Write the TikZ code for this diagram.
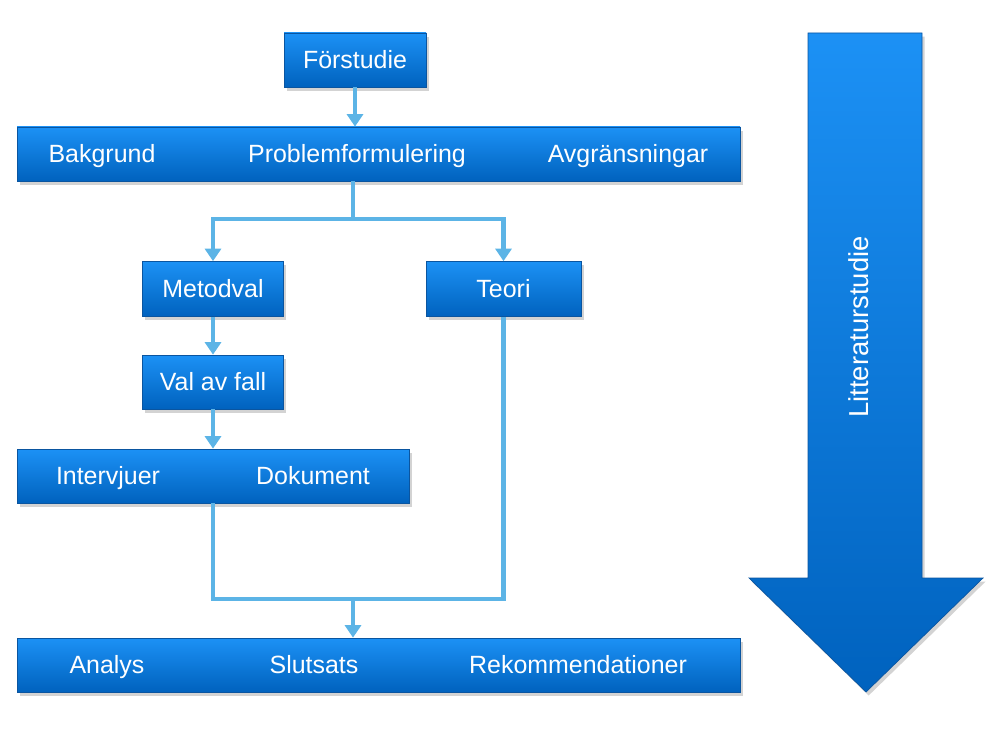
\documentclass[tikz,border=0pt]{standalone}
\usepackage{fontspec}
\setmainfont{Liberation Sans}
\usetikzlibrary{arrows.meta,shadows}
\definecolor{boxtop}{RGB}{28,145,245}
\definecolor{boxbot}{RGB}{0,98,190}
\definecolor{boxrim}{RGB}{10,85,160}
\definecolor{flowline}{RGB}{92,180,230}
\begin{document}
\begin{tikzpicture}[x=0.02cm,y=-0.02cm,
	box/.style={draw=boxrim, thin, top color=boxtop, bottom color=boxbot, text=white,
		drop shadow={shadow xshift=1.5pt, shadow yshift=-2pt, opacity=0.35},
		inner sep=0pt, font=\fontsize{14.2}{17}\selectfont},
	bartext/.style={text=white, inner sep=0pt, text height=0.75em, text depth=0.22em,
		font=\fontsize{14.2}{17}\selectfont},
	line/.style={flowline, line width=2.3pt},
	flow/.style={line, -{Triangle[length=0.25cm,width=0.32cm]}}]
	\useasboundingbox (0,0) rectangle (989,729);

	% boxes
	\node[box, minimum width=142*0.02cm, minimum height=54*0.02cm] (forstudie) at (355,60) {Förstudie};
	\node[box, minimum width=723*0.02cm, minimum height=54*0.02cm] (problem) at (378.5,154) {};
	\node[bartext] (bakgrund) at (102,158) {Bakgrund};
	\node[bartext] (formulering) at (357,158) {Problemformulering};
	\node[bartext] (avgr) at (628,158) {Avgränsningar};
	\node[box, minimum width=141*0.02cm, minimum height=55*0.02cm] (metodval) at (213,289) {Metodval};
	\node[box, minimum width=155*0.02cm, minimum height=55*0.02cm] (teori) at (503.5,289) {Teori};
	\node[box, minimum width=141*0.02cm, minimum height=54*0.02cm] (valfall) at (213,382) {Val av fall};
	\node[box, minimum width=392*0.02cm, minimum height=54*0.02cm] (intervjuer) at (213,476) {};
	\node[bartext] (intv) at (108,480) {Intervjuer};
	\node[bartext] (dok) at (313,480) {Dokument};
	\node[box, minimum width=723*0.02cm, minimum height=54*0.02cm] (analys) at (378.5,665) {};
	\node[bartext] (anl) at (107,669) {Analys};
	\node[bartext] (slut) at (314,669) {Slutsats};
	\node[bartext] (rek) at (578,669) {Rekommendationer};

	% litteraturstudie arrow
	\draw[boxrim, thin, top color=boxtop, bottom color=boxbot,
		drop shadow={shadow xshift=1.5pt, shadow yshift=-2pt, opacity=0.35}]
		(808,33) -- (922,33) -- (922,578) -- (983,578) -- (866,692) -- (749,578) -- (808,578) -- cycle;
	\node[bartext, rotate=90, font=\fontsize{15.6}{18}\selectfont] (litt) at (864,327) {Litteraturstudie};

	% connectors
	\coordinate (split) at (353,219);
	\coordinate (join) at (353,599);
	\draw[flow] (forstudie.south) -- (forstudie.south |- problem.north);
	\draw[line] (split |- problem.south) -- (split);
	\draw[flow] (split) -| (metodval.north);
	\draw[flow] (split) -| (teori.north);
	\draw[flow] (metodval.south) -- (valfall.north);
	\draw[flow] (valfall.south) -- (intervjuer.north);
	\draw[line] (intervjuer.south) |- (join) -| (teori.south);
	\draw[flow] (join) -- (join |- analys.north);
\end{tikzpicture}
\end{document}
